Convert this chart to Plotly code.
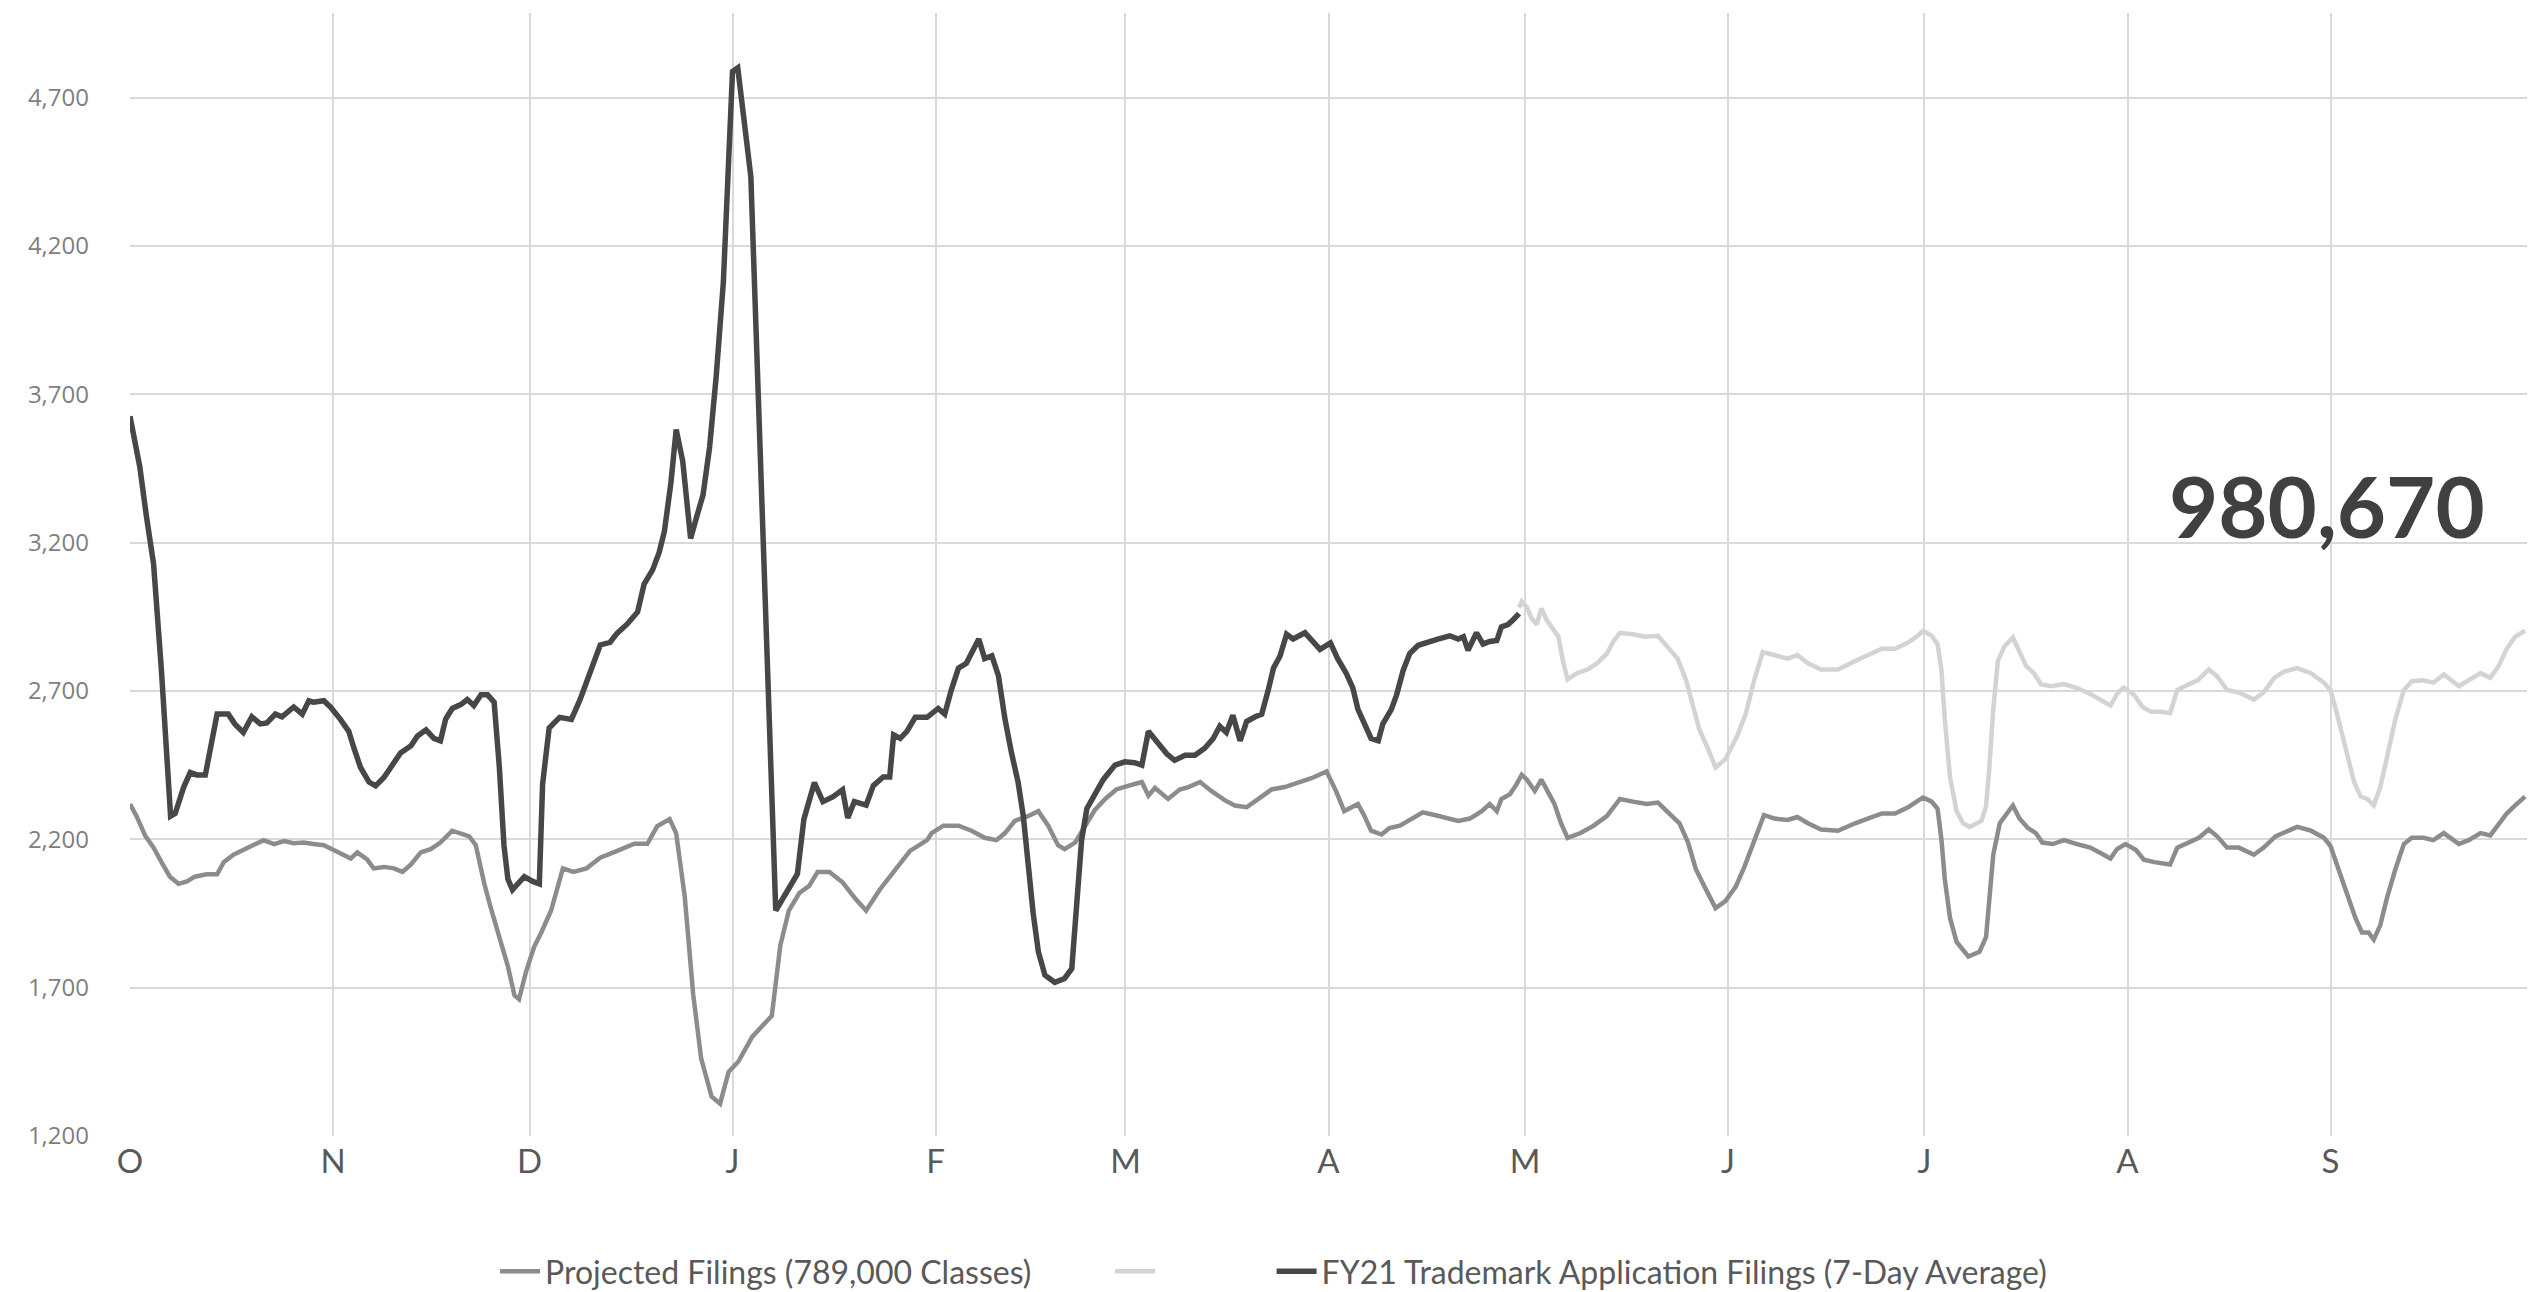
import plotly.graph_objects as go

# Month tick positions (day index from Oct 1; Feb has 29 points in the source axis)
month_days = [0, 31, 61, 92, 123, 152, 183, 213, 244, 274, 305, 336, 366]
month_labels = ["O", "N", "D", "J", "F", "M", "A", "M", "J", "J", "A", "S", ""]

# Projected Filings (789,000 Classes)
proj_day = [0, 1, 2.3, 3.6, 4.8, 6.1, 7.4, 8.7, 9.9, 11.7, 13.3, 14.3, 15.8, 17.3, 18.9, 20.4, 22, 23.5, 25, 26.5,
            28, 29.6, 31.1, 32.7, 33.7, 34.7, 36.2, 37.2, 38.8, 40.3, 41.6, 42.9, 44.4, 45.9, 47.4, 49.2, 50.5, 51.8,
            52.8, 54.1, 55.1, 56.6, 57.7, 58.7, 59.4, 60.5, 61.7, 62.8, 64.3, 66.1, 67.7, 69.7, 71.8, 74.4, 77, 79,
            80.5, 82.4, 83.4, 84.7, 86, 87.2, 88.8, 90.1, 91.4, 92.9, 95, 96.5, 98, 99.3, 100.6, 102.2, 103.7, 105,
            106.8, 108.8, 110.9, 112.4, 114.5, 116.6, 119.1, 121.7, 122.4, 124.2, 126.5, 128.5, 130.5, 132.3, 133.6,
            135.1, 137.1, 138.7, 140.2, 141.7, 142.7, 144.3, 145.8, 147.3, 148.9, 150.6, 152.4, 154.5, 155.5, 156.5,
            158.5, 160.3, 161.6, 163.4, 165.1, 167.2, 168.7, 170.5, 172.3, 174.3, 176.3, 178.4, 180.4, 182.7, 184.2,
            185.4, 186.5, 187.5, 188.5, 189.5, 191.1, 192.3, 193.9, 195.7, 197.4, 199.2, 201.3, 202.8, 204.6, 206.4,
            207.6, 208.7, 209.4, 210.7, 211.7, 212.5, 213.3, 214.5, 215.5, 216.5, 217.5, 218.5, 219.5, 221.5, 223.5,
            225.5, 227.5, 229.5, 231.6, 233.3, 235.1, 236.6, 237.9, 239.1, 240.4, 242.1, 243.6, 245.2, 246.5, 248,
            249.5, 251.1, 253.1, 254.6, 256.2, 258.2, 260.8, 263.4, 265.4, 267.5, 269.5, 271.5, 272.8, 273.8, 275.1,
            276, 276.6, 277.1, 277.9, 278.9, 280.7, 282.4, 283.4, 283.9, 284.5, 285.5, 286.5, 287.5, 288.5, 289.8,
            291, 292, 293.6, 295.3, 297.3, 299.3, 301.1, 302.4, 303.4, 304.7, 306.3, 307.5, 309.1, 311.5, 312.6,
            314.4, 315.9, 317.4, 318.7, 320.2, 322, 324.3, 325.8, 327.6, 329.1, 330.9, 333, 335, 336, 337.3, 338.5,
            339.8, 340.8, 341.8, 342.6, 343.6, 344.6, 345.9, 347.2, 348.4, 350.2, 351.7, 353.3, 354.3, 355.6, 357.1,
            358.9, 360.4, 361.7, 362.9, 364.2, 365.7]
proj_val = [2319, 2278, 2213, 2172, 2123, 2074, 2050, 2058, 2074, 2082, 2082, 2123, 2148, 2164, 2184, 2197, 2184, 2194,
            2187, 2189, 2184, 2180, 2164, 2148, 2135, 2156, 2132, 2102, 2107, 2102, 2090, 2115, 2156, 2167, 2189, 2229,
            2221, 2210, 2180, 2050, 1968, 1854, 1772, 1674, 1661, 1756, 1837, 1886, 1960, 2102, 2090, 2102, 2138, 2161,
            2185, 2185, 2244, 2268, 2220, 2007, 1676, 1463, 1333, 1309, 1416, 1451, 1534, 1570, 1605, 1842, 1960, 2019,
            2043, 2090, 2090, 2055, 1996, 1960, 2031, 2090, 2161, 2197, 2221, 2246, 2246, 2229, 2205, 2197, 2221, 2262,
            2278, 2295, 2246, 2180, 2167, 2189, 2246, 2298, 2336, 2368, 2380, 2393, 2347, 2373, 2336, 2368, 2376, 2393,
            2363, 2331, 2314, 2308, 2336, 2368, 2376, 2393, 2406, 2429, 2360, 2295, 2308, 2319, 2278, 2229, 2216, 2238,
            2246, 2270, 2291, 2282, 2270, 2262, 2270, 2295, 2319, 2295, 2336, 2352, 2385, 2417, 2401, 2363, 2401, 2360,
            2319, 2254, 2205, 2221, 2246, 2278, 2336, 2327, 2319, 2324, 2287, 2254, 2189, 2099, 2041, 1968, 1992, 2041,
            2107, 2197, 2282, 2270, 2265, 2275, 2254, 2233, 2229, 2254, 2270, 2287, 2287, 2308, 2327, 2341, 2327, 2303,
            2197, 2066, 1935, 1854, 1805, 1821, 1870, 1984, 2148, 2254, 2287, 2314, 2270, 2238, 2221, 2189, 2184, 2197,
            2184, 2172, 2151, 2135, 2167, 2184, 2164, 2131, 2123, 2115, 2172, 2189, 2205, 2233, 2210, 2172, 2172, 2148,
            2172, 2210, 2226, 2242, 2229, 2205, 2177, 2099, 2017, 1935, 1886, 1886, 1862, 1911, 2001, 2099, 2184, 2205,
            2205, 2197, 2221, 2205, 2184, 2197, 2221, 2213, 2249, 2287, 2314, 2344]

# Light gray series (no legend text in the source)
light_day = [212.1, 212.5, 213.3, 214, 214.8, 215.5, 216.3, 217.1, 218.1, 218.8, 219.5, 221, 222.5, 224, 225.5, 226.5,
             227.5, 229.5, 231.3, 233.3, 234.6, 236.3, 237.6, 238.6, 239.6, 240.9, 242.1, 243.6, 245.4, 246.7, 248,
             249.3, 251.1, 253.1, 254.6, 256.2, 258.2, 260.8, 263.4, 265.4, 267.5, 269.5, 271.5, 272.8, 273.8, 275.1,
             276, 276.6, 277.1, 277.9, 278.9, 279.9, 280.9, 282.7, 283.4, 283.9, 284.5, 285.2, 286.2, 287.5, 288.5,
             289.5, 290.7, 291.8, 293.3, 295.3, 297.3, 299.3, 301.1, 302.4, 303.4, 304.4, 306, 307.3, 308.6, 310.1,
             311.5, 312.6, 314.1, 315.7, 317.4, 318.7, 320.2, 322, 324.3, 325.8, 327.4, 328.9, 330.9, 333, 335, 336,
             337, 338.3, 339.6, 340.6, 341.6, 342.6, 343.6, 344.6, 345.9, 347.2, 348.4, 350.2, 351.7, 353.3, 354.3,
             355.6, 357.1, 358.9, 360.4, 361.7, 362.9, 364.2, 365.7]
light_val = [2981, 3001, 2981, 2945, 2924, 2978, 2940, 2916, 2883, 2801, 2739, 2760, 2772, 2793, 2826, 2867, 2896, 2891,
             2883, 2886, 2854, 2809, 2736, 2654, 2572, 2507, 2442, 2470, 2548, 2622, 2736, 2831, 2821, 2809, 2821, 2793,
             2772, 2772, 2801, 2821, 2842, 2842, 2863, 2883, 2903, 2886, 2858, 2769, 2605, 2409, 2295, 2254, 2242, 2262,
             2311, 2442, 2638, 2801, 2850, 2880, 2834, 2785, 2760, 2723, 2716, 2723, 2710, 2690, 2667, 2651, 2690, 2711,
             2687, 2646, 2630, 2630, 2625, 2703, 2720, 2736, 2772, 2749, 2703, 2695, 2671, 2695, 2744, 2765, 2777, 2760,
             2728, 2703, 2622, 2507, 2393, 2344, 2336, 2314, 2376, 2474, 2605, 2703, 2733, 2736, 2728, 2756, 2739, 2716,
             2736, 2760, 2744, 2785, 2842, 2883, 2903]

# FY21 Trademark Application Filings (7-Day Average)
fy21_day = [0, 1.5, 2.5, 3.6, 4.8, 5.6, 6.2, 6.9, 8.2, 9.2, 10.2, 11.5, 12.2, 13.3, 15, 16, 17.3, 18.6, 19.9, 20.9,
            22.2, 23.2, 25, 26.3, 27.3, 28, 29.6, 30.6, 32.1, 33.4, 34.2, 35.2, 36.5, 37.5, 38.8, 40, 41.3, 42.9, 43.9,
            45.2, 46.4, 47.4, 48.2, 49.2, 50.5, 51.5, 52.5, 53.6, 54.6, 55.6, 56.4, 57.1, 57.7, 58.4, 59.2, 60.2, 61.5,
            62.5, 63, 64, 65.6, 67.4, 68.7, 70.3, 71.8, 73.3, 74.4, 75.9, 77.5, 78.5, 79.8, 80.8, 81.6, 82.6, 83.4,
            84.4, 85.6, 86.5, 87.5, 88.5, 89.5, 90.6, 91.4, 92, 92.8, 93.9, 94.8, 98.6, 100.1, 101.9, 102.9, 104.5,
            105.8, 107.3, 108.8, 109.6, 110.6, 112.4, 113.5, 115, 116, 116.6, 117.6, 118.6, 119.9, 121.7, 123.4, 124.4,
            125.4, 126.5, 127.7, 128.7, 129.6, 130.5, 131.6, 132.6, 133.6, 134.6, 135.6, 136.4, 137.1, 137.9, 138.7,
            139.7, 141.2, 142.7, 143.8, 144.3, 144.8, 145.3, 146.1, 147.3, 148.6, 150.4, 151.9, 153.4, 154.5, 155.5,
            157, 158.3, 159.5, 161.1, 162.6, 164.1, 165.4, 166.4, 167.4, 168.4, 169.5, 170.5, 171.8, 172.8, 173.8,
            174.6, 175.6, 176.6, 177.6, 179.4, 180.6, 181.7, 183.3, 184.4, 185.7, 186.7, 187.5, 188.5, 189.5, 190.6,
            191.3, 192.6, 193.4, 194.4, 195.4, 196.7, 198.2, 199.7, 201.5, 202.8, 203.6, 204.3, 205.6, 206.6, 207.6,
            208.7, 209.4, 210.4, 211.2, 212.1]
fy21_val = [3626, 3455, 3290, 3128, 2769, 2475, 2278, 2287, 2376, 2425, 2417, 2417, 2507, 2622, 2622, 2589, 2560, 2613,
            2589, 2592, 2622, 2613, 2646, 2622, 2667, 2662, 2667, 2646, 2605, 2564, 2507, 2442, 2393, 2380, 2409, 2450,
            2491, 2515, 2548, 2569, 2540, 2532, 2605, 2641, 2654, 2671, 2651, 2687, 2687, 2662, 2442, 2180, 2066, 2030,
            2050, 2074, 2058, 2050, 2386, 2575, 2611, 2604, 2670, 2765, 2855, 2864, 2895, 2925, 2966, 3060, 3108, 3167,
            3238, 3403, 3581, 3474, 3214, 3285, 3361, 3522, 3758, 4078, 4539, 4788, 4800, 4586, 4433, 1960, 2012, 2083,
            2268, 2391, 2327, 2343, 2367, 2272, 2327, 2315, 2381, 2410, 2410, 2552, 2540, 2563, 2611, 2611, 2641, 2622,
            2703, 2777, 2793, 2842, 2875, 2809, 2818, 2752, 2605, 2491, 2393, 2278, 2115, 1952, 1821, 1742, 1718, 1731,
            1764, 1903, 2066, 2197, 2303, 2352, 2401, 2450, 2461, 2458, 2450, 2564, 2524, 2488, 2466, 2483, 2483, 2507,
            2540, 2581, 2560, 2618, 2532, 2597, 2613, 2622, 2703, 2777, 2818, 2891, 2875, 2896, 2867, 2840, 2862, 2809,
            2760, 2711, 2638, 2589, 2540, 2532, 2589, 2638, 2687, 2769, 2826, 2854, 2867, 2875, 2886, 2875, 2883, 2837,
            2896, 2858, 2867, 2870, 2916, 2924, 2940, 2961]

total_label = "980,670"

NB = "\u00a0"

fig = go.Figure()
fig.add_trace(go.Scatter(x=proj_day, y=proj_val, mode="lines",
                         name="Projected Filings (789,000 Classes)" + NB * 9,
                         line=dict(color="#8c8c8c", width=4.5)))
fig.add_trace(go.Scatter(x=light_day, y=light_val, mode="lines", name=NB * 13,
                         line=dict(color="#d3d3d3", width=4.5)))
fig.add_trace(go.Scatter(x=fy21_day, y=fy21_val, mode="lines",
                         name="FY21 Trademark Application Filings (7-Day Average)",
                         line=dict(color="#474747", width=5.5)))

fig.add_annotation(text=f"<b>{total_label}</b>", x=0.9166, xref="paper", y=3326, yref="y",
                   showarrow=False, xanchor="center", yanchor="middle",
                   font=dict(family="Lato", size=85, color="#404040"))

fig.update_layout(
    width=2532, height=1292,
    margin=dict(l=130, r=5, t=13, b=156, autoexpand=False),
    paper_bgcolor="white", plot_bgcolor="white",
    showlegend=True,
    legend=dict(orientation="h", x=0.1523, xanchor="left", yref="container", y=0.016, yanchor="middle",
                font=dict(family="Lato", size=32, color="#595959"), itemwidth=40,
                traceorder="normal"),
    xaxis=dict(range=[0, 366], tickmode="array", tickvals=month_days, ticktext=month_labels,
               showgrid=True, gridcolor="#d9d9d9", gridwidth=2, zeroline=False, showline=False,
               tickfont=dict(family="Lato", size=33, color="#595959"), ticks="", ticklabelstandoff=3),
    yaxis=dict(range=[1200, 4985], tick0=1200, dtick=500, tickformat=",d",
               showgrid=True, gridcolor="#d9d9d9", gridwidth=2, zeroline=False, showline=False,
               tickfont=dict(family="Open Sans", size=24, color="#7f7f7f"), ticks="",
               ticklabelstandoff=40),
)

fig.write_html("out.html", config={"displayModeBar": False},
               post_script="document.body.style.margin='0';")
